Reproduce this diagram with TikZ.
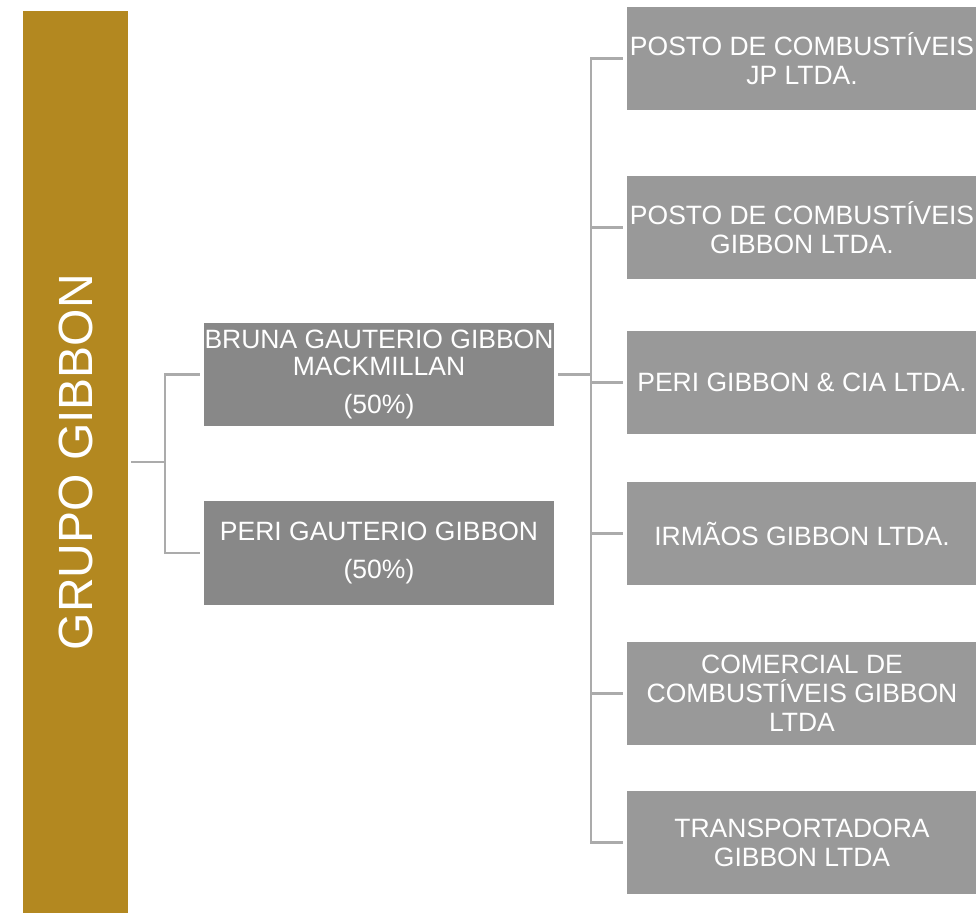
\documentclass[tikz,border=0pt]{standalone}
\usepackage{fontspec}
\setmainfont{Liberation Sans}
\definecolor{gold}{HTML}{B38820}
\definecolor{midgray}{HTML}{888888}
\definecolor{rgray}{HTML}{999999}
\definecolor{linegray}{HTML}{ABABAB}
\tikzset{
  goldbox/.style={fill=gold, draw=none, minimum width=105pt, minimum height=901pt, inner sep=0pt, text=white},
  midbox/.style={fill=midgray, draw=none, minimum width=350pt, minimum height=103pt, inner sep=0pt, text=white, align=center, font=\fontsize{26.5}{27}\selectfont},
  rbox/.style={fill=rgray, draw=none, minimum width=350pt, minimum height=103pt, inner sep=0pt, text=white, align=center, font=\fontsize{26.5}{29}\selectfont},
  conn/.style={draw=linegray, line width=2.2pt},
}
\begin{document}
\begin{tikzpicture}[x=1pt, y=-1pt]
\useasboundingbox (0,0) rectangle (976,912);
\node[goldbox] (gold) at (75.5,462) {\rotatebox{90}{\fontsize{48}{50}\selectfont GRUPO GIBBON}};
\node[midbox] (bruna) at (379,374.5) {BRUNA GAUTERIO GIBBON\\MACKMILLAN\\[11pt](50\%)};
\node[midbox, minimum height=104pt] (peri) at (379,553) {PERI GAUTERIO GIBBON\\[11pt](50\%)};
\node[rbox] (r1) at (802,58.5) {POSTO DE COMBUSTÍVEIS\\JP LTDA.};
\node[rbox] (r2) at (802,227.5) {POSTO DE COMBUSTÍVEIS\\GIBBON LTDA.};
\node[rbox] (r3) at (802,382.5) {PERI GIBBON \& CIA LTDA.};
\node[rbox] (r4) at (802,533.5) {IRMÃOS GIBBON LTDA.};
\node[rbox] (r5) at (802,693.5) {COMERCIAL DE\\COMBUSTÍVEIS GIBBON\\LTDA};
\node[rbox] (r6) at (802,842.5) {TRANSPORTADORA\\GIBBON LTDA};
\coordinate (j1) at (165,462);
\coordinate (j2) at (591,374.5);
\draw[conn, shorten <=3pt] (gold.east) -- (j1);
\draw[conn, shorten >=4pt] (j1) |- (bruna.west);
\draw[conn, shorten >=4pt] (j1) |- (peri.west);
\draw[conn, shorten <=4pt] (bruna.east) -- (j2);
\foreach \r in {r1,r2,r3,r4,r5,r6}{
  \draw[conn, shorten >=4pt] (j2) |- (\r.west);
}
\end{tikzpicture}
\end{document}
